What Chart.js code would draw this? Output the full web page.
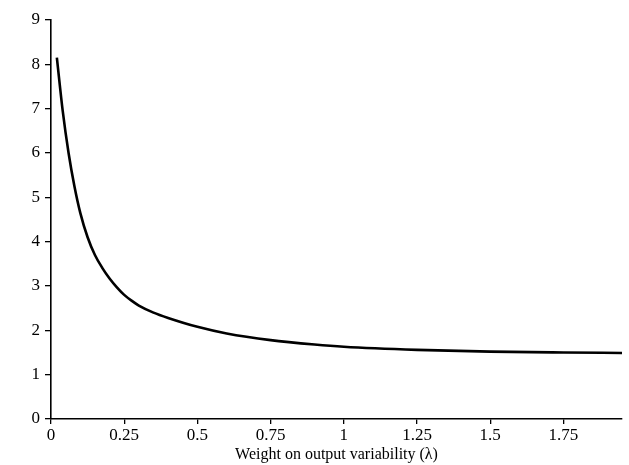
<!DOCTYPE html>
<html>
<head>
<meta charset="utf-8">
<script src="https://cdn.jsdelivr.net/npm/chart.js@4"></script>
<style>
  body { margin: 0; background: #fff; }
  #c { display: block; }
</style>
</head>
<body>
<canvas id="c" width="629" height="465"></canvas>
<script>
// values
const lambdas = [0.02, 0.04, 0.06, 0.08, 0.1, 0.125, 0.15, 0.175, 0.2, 0.225, 0.25, 0.275, 0.3, 0.35, 0.4, 0.5, 0.6, 0.75, 0.9, 1.0, 1.25, 1.5, 1.75, 1.95];
const values  = [8.15, 6.95, 6.0, 5.25, 4.65, 4.1, 3.7, 3.41, 3.17, 2.97, 2.8, 2.67, 2.56, 2.4, 2.28, 2.08, 1.93, 1.78, 1.68, 1.63, 1.56, 1.52, 1.5, 1.49];
const xTicks = ["0", "0.25", "0.5", "0.75", "1", "1.25", "1.5", "1.75"];
const xTitle = "Weight on output variability (\u03bb)";

const points = lambdas.map((l, i) => ({x: l, y: values[i]}));
const font = {family: "'Liberation Serif', 'DejaVu Serif', serif", size: 17};

new Chart(document.getElementById("c").getContext("2d"), {
    type: "line",
    data: {
        datasets: [{
            data: points,
            borderColor: "#000",
            borderWidth: 2.6,
            pointRadius: 0,
            fill: false,
            cubicInterpolationMode: "monotone"
        }]
    },
    options: {
        responsive: false,
        animation: false,
        layout: {padding: {top: 20, right: 7, left: 0, bottom: 0}},
        plugins: {legend: {display: false}, tooltip: {enabled: false}},
        scales: {
            x: {
                type: "linear",
                min: 0,
                max: 1.95,
                grid: {display: true, drawOnChartArea: false, drawTicks: true, tickLength: 5, color: "#000", lineWidth: 1.3},
                border: {display: true, color: "#000", width: 1.6},
                ticks: {
                    stepSize: 0.25,
                    includeBounds: false,
                    color: "#000",
                    font: font,
                    padding: 1,
                    maxRotation: 0,
                    callback: (v, i) => xTicks[i]
                },
                title: {display: true, text: xTitle, color: "#000", font: {family: font.family, size: 16}, padding: {top: 0, bottom: 1}},
                afterFit: s => { s.height = 46; }
            },
            y: {
                min: 0,
                max: 9,
                grid: {display: true, drawOnChartArea: false, drawTicks: true, tickLength: 6, color: "#000", lineWidth: 1.3},
                border: {display: true, color: "#000", width: 1.6},
                ticks: {stepSize: 1, color: "#000", font: font, padding: 5},
                afterFit: s => { s.width = 51; }
            }
        }
    }
});
</script>
</body>
</html>
